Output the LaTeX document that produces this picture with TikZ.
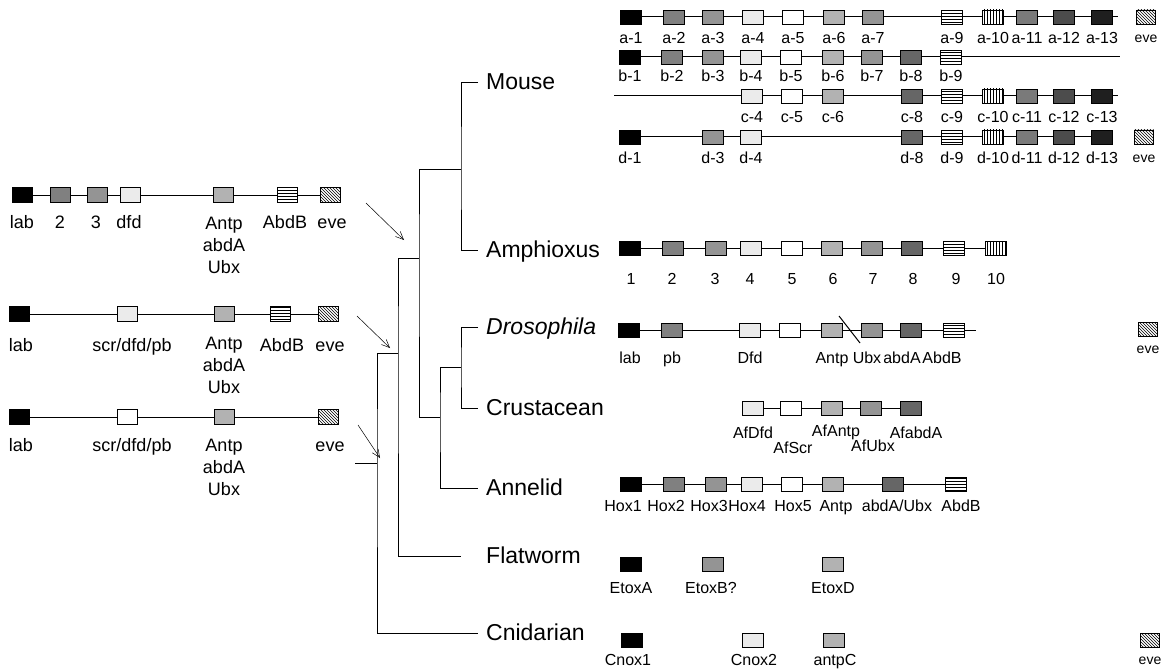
\documentclass[tikz,border=0pt]{standalone}
\usepackage{fontspec}
\setmainfont{Liberation Sans}
\usetikzlibrary{patterns,backgrounds,arrows.meta}
\tikzset{
  gbox/.style={draw, line width=0.9pt, minimum width=21pt, minimum height=14pt,
               inner sep=0pt, fill=white},
  lbox/.style={gbox, minimum width=20pt, minimum height=15pt},
  evebox/.style={gbox, minimum width=19pt, postaction={pattern=north west lines}},
  g1/.style={fill=black},
  g2/.style={fill=black!50},
  g3/.style={fill=black!42},
  g4/.style={fill=black!8},
  g5/.style={fill=white},
  g6/.style={fill=black!30},
  g7/.style={fill=black!42},
  g8/.style={fill=black!60},
  g9/.style={postaction={pattern=horizontal lines}},
  g10/.style={postaction={pattern=vertical lines}},
  g11/.style={fill=black!52},
  g12/.style={fill=black!70},
  g13/.style={fill=black!88},
  glabel/.style={anchor=base, inner sep=0pt, font=\fontsize{16}{19}\selectfont},
  evelabel/.style={glabel, font=\fontsize{14}{17}\selectfont},
  llabel/.style={anchor=base, inner sep=0pt, align=center, font=\fontsize{18}{22}\selectfont},
  taxon/.style={anchor=west, inner xsep=8pt, inner ysep=0pt, text height=17pt,
                text depth=3pt, font=\fontsize{23}{26}\selectfont},
  gline/.style={line width=1pt},
  tree/.style={line width=1pt},
  migr/.style={->, line width=0.5pt},
}
% box with its name below it
\newcommand{\genebox}[7]{%
  \node[gbox,#2] (#1) at (#3,#4) {};
  \node[glabel] (#1t) at (#6,#7) {#5};}

\begin{document}
\begin{tikzpicture}[x=1pt, y=-1pt, >={Straight Barb[length=8pt, width=7pt]}]
  \useasboundingbox (0,0) rectangle (1166,671);

  % ancestral clusters
  \node[lbox,g1] (k1lab) at (22,195) {};
  \node[lbox,g2] (k1two) at (60,195) {};
  \node[lbox,g3] (k1three) at (97,195) {};
  \node[lbox,g4] (k1dfd) at (130,195) {};
  \node[lbox,g6] (k1antp) at (223,195) {};
  \node[lbox,g9] (k1abdb) at (287,195) {};
  \node[evebox,lbox] (k1eve) at (330,195) {};
  \node[llabel] (k1labt) at (22,228.5) {lab};
  \node[llabel] (k1twot) at (60,228.5) {2};
  \node[llabel] (k1threet) at (96,228.5) {3};
  \node[llabel] (k1dfdt) at (129,228.5) {dfd};
  \node[llabel] (k1antpt) at (224,273.5) {Antp\\abdA\\Ubx};
  \node[llabel] (k1abdbt) at (285,228.5) {AbdB};
  \node[llabel] (k1evet) at (332,228.5) {eve};

  \node[lbox,g1] (k2lab) at (19,314) {};
  \node[lbox,g4] (k2scr) at (127,314) {};
  \node[lbox,g6] (k2antp) at (224,314) {};
  \node[lbox,g9] (k2abdb) at (280,314) {};
  \node[evebox,lbox] (k2eve) at (328,314) {};
  \node[llabel] (k2labt) at (21,351.5) {lab};
  \node[llabel] (k2scrt) at (132,351.5) {scr/dfd/pb};
  \node[llabel] (k2antpt) at (224,393.5) {Antp\\abdA\\Ubx};
  \node[llabel] (k2abdbt) at (282,351.5) {AbdB};
  \node[llabel] (k2evet) at (330,351.5) {eve};

  \node[lbox,g1] (k3lab) at (19,417) {};
  \node[lbox,g5] (k3scr) at (127,417) {};
  \node[lbox,g6] (k3antp) at (224,417) {};
  \node[evebox,lbox] (k3eve) at (328,417) {};
  \node[llabel] (k3labt) at (21,451.5) {lab};
  \node[llabel] (k3scrt) at (132,451.5) {scr/dfd/pb};
  \node[llabel] (k3antpt) at (224,495.5) {Antp\\abdA\\Ubx};
  \node[llabel] (k3evet) at (330,451.5) {eve};

  % tree
  \node[taxon] (mouse) at (478,83) {Mouse};
  \node[taxon] (amph) at (478,250) {Amphioxus};
  \node[taxon] (dros) at (478,327) {\itshape Drosophila};
  \node[taxon] (crus) at (478,408) {Crustacean};
  \node[taxon] (anne) at (478,488) {Annelid};
  \node[taxon] (flat) at (478,556) {Flatworm};
  \node[taxon] (cnid) at (478,633) {Cnidarian};
  \coordinate (nMA) at (461,170);
  \coordinate (nDC) at (461,367);
  \coordinate (nP) at (440,417);
  \coordinate (nDP) at (419,258);
  \coordinate (nBil) at (398,353);
  \coordinate (nRoot) at (377,463);
  \coordinate (stub) at (355,463);
  \coordinate (fwend) at ([xshift=-17pt]flat.west);
  \draw[tree] (mouse.west) -| (nMA) |- (amph.west);
  \draw[tree] (dros.west) -| (nDC) |- (crus.west);
  \draw[tree] (nDC) -| (nP) |- (anne.west);
  \draw[tree] (nMA) -| (nDP) |- (nP);
  \draw[tree] (nDP) -| (nBil) |- (fwend);
  \draw[tree] (nBil) -| (nRoot) |- (cnid.west);
  \draw[tree] (stub) -- (nRoot);

  \coordinate (ar1s) at (366,203);
  \coordinate (ar1e) at (404,240);
  \coordinate (ar2s) at (357,316);
  \coordinate (ar2e) at (390,348);
  \coordinate (ar3s) at (358,425);
  \coordinate (ar3e) at (380,458);
  \draw[migr] (ar1s) -- (ar1e);
  \draw[migr] (ar2s) -- (ar2e);
  \draw[migr] (ar3s) -- (ar3e);

  % mouse clusters
  \genebox{ma1}{g1}{631}{17}{a-1}{631}{44}
  \genebox{ma2}{g2}{674}{17}{a-2}{674}{44}
  \genebox{ma3}{g3}{713}{17}{a-3}{713}{44}
  \genebox{ma4}{g4}{753}{17}{a-4}{753}{44}
  \genebox{ma5}{g5}{793}{17}{a-5}{793}{44}
  \genebox{ma6}{g6}{834}{17}{a-6}{834}{44}
  \genebox{ma7}{g7}{873}{17}{a-7}{873}{44}
  \genebox{ma9}{g9}{952}{17}{a-9}{952}{44}
  \genebox{ma10}{g10}{993}{17}{a-10}{993}{44}
  \genebox{ma11}{g11}{1027}{17}{a-11}{1027}{44}
  \genebox{ma12}{g12}{1064}{17}{a-12}{1064}{44}
  \genebox{ma13}{g13}{1102}{17}{a-13}{1102}{44}
  \node[evebox] (maeve) at (1146,17) {};
  \node[evelabel] (maevet) at (1146,43) {eve};
  \coordinate (maend) at (1118,17);

  \genebox{mb1}{g1}{630}{57}{b-1}{630}{82}
  \genebox{mb2}{g2}{672}{57}{b-2}{672}{82}
  \genebox{mb3}{g3}{713}{57}{b-3}{713}{82}
  \genebox{mb4}{g4}{751}{57}{b-4}{751}{82}
  \genebox{mb5}{g5}{791}{57}{b-5}{791}{82}
  \genebox{mb6}{g6}{833}{57}{b-6}{833}{82}
  \genebox{mb7}{g7}{872}{57}{b-7}{872}{82}
  \genebox{mb8}{g8}{911}{57}{b-8}{911}{82}
  \genebox{mb9}{g9}{951}{57}{b-9}{951}{82}
  \coordinate (mbend) at (1120,57);

  \coordinate (mcstart) at (614,96);
  \genebox{mc4}{g4}{752}{96}{c-4}{752}{123}
  \genebox{mc5}{g5}{792}{96}{c-5}{792}{123}
  \genebox{mc6}{g6}{833}{96}{c-6}{833}{123}
  \genebox{mc8}{g8}{912}{96}{c-8}{912}{123}
  \genebox{mc9}{g9}{952}{96}{c-9}{952}{123}
  \genebox{mc10}{g10}{993}{96}{c-10}{993}{123}
  \genebox{mc11}{g11}{1027}{96}{c-11}{1027}{123}
  \genebox{mc12}{g12}{1064}{96}{c-12}{1064}{123}
  \genebox{mc13}{g13}{1102}{96}{c-13}{1102}{123}
  \coordinate (mcend) at (1118,96);

  \genebox{md1}{g1}{630}{137}{d-1}{630}{164}
  \genebox{md3}{g3}{713}{137}{d-3}{713}{164}
  \genebox{md4}{g4}{751}{137}{d-4}{751}{164}
  \genebox{md8}{g8}{912}{137}{d-8}{912}{164}
  \genebox{md9}{g9}{952}{137}{d-9}{952}{164}
  \genebox{md10}{g10}{993}{137}{d-10}{993}{164}
  \genebox{md11}{g11}{1027}{137}{d-11}{1027}{164}
  \genebox{md12}{g12}{1064}{137}{d-12}{1064}{164}
  \genebox{md13}{g13}{1102}{137}{d-13}{1102}{164}
  \node[evebox] (mdeve) at (1144,137) {};
  \node[evelabel] (mdevet) at (1144,163) {eve};

  % amphioxus
  \genebox{am1}{g1}{630}{248}{1}{631}{284}
  \genebox{am2}{g2}{673}{248}{2}{672}{284}
  \genebox{am3}{g3}{716}{248}{3}{715}{284}
  \genebox{am4}{g4}{751}{248}{4}{750}{284}
  \genebox{am5}{g5}{792}{248}{5}{792}{284}
  \genebox{am6}{g6}{832}{248}{6}{833}{284}
  \genebox{am7}{g7}{872}{248}{7}{873}{284}
  \genebox{am8}{g8}{912}{248}{8}{913}{284}
  \genebox{am9}{g9}{954}{248}{9}{956}{284}
  \genebox{am10}{g10}{996}{248}{10}{996}{284}

  % drosophila
  \genebox{dlab}{g1}{629}{330}{lab}{630}{363}
  \genebox{dpb}{g2}{672}{330}{pb}{672}{363}
  \genebox{ddfd}{g4}{750}{330}{Dfd}{750}{363}
  \node[gbox,g5] (dscr) at (790,330) {};
  \genebox{dantp}{g6}{832}{330}{Antp}{832}{363}
  \genebox{dubx}{g7}{872}{330}{Ubx}{867}{363}
  \genebox{dabda}{g8}{911}{330}{abdA}{902}{363}
  \genebox{dabdb}{g9}{954}{330}{AbdB}{942}{363}
  \coordinate (dend) at (976,330);
  \draw[gline] (839,316) -- (860,343);
  \node[evebox] (deve) at (1148,329) {};
  \node[evelabel] (devet) at (1148,353) {eve};

  % crustacean
  \genebox{cdfd}{g4}{753}{408}{AfDfd}{753}{438}
  \genebox{cscr}{g5}{791}{408}{AfScr}{793}{453}
  \genebox{cantp}{g6}{832}{408}{AfAntp}{836}{436}
  \genebox{cubx}{g7}{871}{408}{AfUbx}{873}{451}
  \genebox{cabda}{g8}{911}{408}{AfabdA}{916}{438}

  % annelid
  \genebox{h1}{g1}{631}{484}{Hox1}{623}{511}
  \genebox{h2}{g2}{674}{484}{Hox2}{666}{511}
  \genebox{h3}{g3}{716}{484}{Hox3}{709}{511}
  \genebox{h4}{g4}{752}{484}{Hox4}{747}{511}
  \genebox{h5}{g5}{792}{484}{Hox5}{793}{511}
  \genebox{hantp}{g6}{833}{484}{Antp}{836}{511}
  \genebox{habda}{g8}{893}{484}{abdA/Ubx}{897}{511}
  \genebox{habdb}{g9}{956}{484}{AbdB}{961}{511}

  % flatworm
  \genebox{etxa}{g1}{631}{564}{EtoxA}{631}{593}
  \genebox{etxb}{g3}{713}{564}{EtoxB?}{711}{593}
  \genebox{etxd}{g6}{833}{564}{EtoxD}{833}{593}

  % cnidarian
  \genebox{cnx1}{g1}{632}{640}{Cnox1}{628}{665}
  \genebox{cnx2}{g4}{753}{640}{Cnox2}{754}{665}
  \genebox{antc}{g6}{834}{640}{antpC}{835}{665}
  \node[evebox] (ceve) at (1150,640) {};
  \node[evelabel] (cevet) at (1150,664) {eve};

  \begin{pgfonlayer}{background}
    \draw[gline] (k1lab) -- (k1eve);
    \draw[gline] (k2lab) -- (k2eve);
    \draw[gline] (k3lab) -- (k3eve);
    \draw[gline] (ma1) -- (maend);
    \draw[gline] (mb1) -- (mbend);
    \draw[gline] (mcstart) -- (mcend);
    \draw[gline] (md1) -- (md13);
    \draw[gline] (am1) -- (am10);
    \draw[gline] (dlab) -- (dend);
    \draw[gline] (cdfd) -- (cabda);
    \draw[gline] (h1) -- (habdb);
  \end{pgfonlayer}
\end{tikzpicture}
\end{document}
